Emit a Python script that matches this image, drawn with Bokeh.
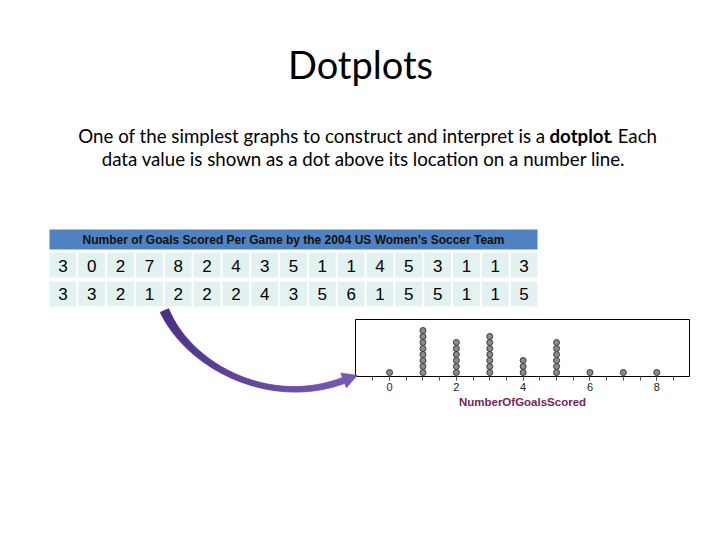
import numpy as np
from bokeh.plotting import figure
from bokeh.models import Range1d, FixedTicker, LinearAxis
from bokeh.embed import file_html
from bokeh.resources import INLINE
from bokeh.core.properties import value

# ---------------- data ----------------
TITLE = "Dotplots"
INTRO_1 = "One of the simplest graphs to construct and interpret is a"
INTRO_BOLD = "dotplot"
INTRO_2 = ". Each"
INTRO_LINE2 = "data value is shown as a dot above its location on a number line."
TABLE_TITLE = "Number of Goals Scored Per Game by the 2004 US Women\u2019s Soccer Team"
goals_row1 = [3, 0, 2, 7, 8, 2, 4, 3, 5, 1, 1, 4, 5, 3, 1, 1, 3]
goals_row2 = [3, 3, 2, 1, 2, 2, 2, 4, 3, 5, 6, 1, 5, 5, 1, 1, 5]
major_ticks = [0, 2, 4, 6, 8]
minor_ticks = [-0.5, 0, 0.5, 1, 1.5, 2, 2.5, 3, 3.5, 4, 4.5, 5, 5.5, 6, 6.5, 7, 7.5, 8, 8.5]
goal_axis_min, goal_axis_max = -1.02, 8.98
AXIS_LABEL = "NumberOfGoalsScored"

# ---------------- styles / layout (page pixels) ----------------
W, H = 720, 540
HEADER_BLUE = "#4F82C0"
CELL_FILL = "#E3F1F1"
ARROW_DARK = np.array([0x4A, 0x2E, 0x84])
ARROW_LIGHT = np.array([0x76, 0x58, 0xB4])
AXIS_LABEL_COLOR = "#7B1E62"
BOX_L, BOX_R, BOX_T, BOX_B = 355, 689, 319, 376   # dotplot panel
DOT_STEP = 6                                       # px between stacked dots
FIRST_DOT = 4                                      # px above the axis

p = figure(width=W, height=H, x_range=Range1d(0, W), y_range=Range1d(H, 0),
           output_backend="svg", toolbar_location=None,
           x_axis_location=None, y_axis_location=None,
           min_border=0, min_border_left=0, min_border_right=0,
           min_border_top=0, min_border_bottom=0)
p.grid.visible = False
p.outline_line_color = None
p.background_fill_color = "white"
p.border_fill_color = "white"

# ---------------- title and text ----------------
p.text(x=[360], y=[63.5], text=[TITLE], text_font=value("Lato"), text_font_size="38px",
       text_align="center", text_baseline="middle", text_color="black")
para = dict(text_font=value("Lato"), text_font_size="18.7px", text_baseline="middle",
            text_color="black")
p.text(x=[545], y=[135.8], text=[INTRO_1], text_align="right", **para)
p.text(x=[549], y=[135.8], text=[INTRO_BOLD], text_font_style="bold", text_align="left", **para)
p.text(x=[608], y=[135.8], text=[INTRO_2], text_align="left", **para)
p.text(x=[363], y=[158.8], text=[INTRO_LINE2], text_align="center", **para)

# ---------------- table ----------------
tbl_left, tbl_right = 49, 537
n_cols = len(goals_row1)
gap = 2
pitch = (tbl_right - tbl_left + gap) / n_cols
cell_w = pitch - gap
p.quad(left=[tbl_left], right=[tbl_right], top=[229], bottom=[249],
       fill_color=HEADER_BLUE, line_color=None)
p.text(x=[(tbl_left + tbl_right) / 2], y=[239], text=[TABLE_TITLE],
       text_font=value("Liberation Sans"), text_font_size="12px", text_font_style="bold",
       text_align="center", text_baseline="middle", text_color="#111111")
for vals, (ytop, ybot, ymid) in ((goals_row1, (252, 277, 265)), (goals_row2, (281, 306, 293))):
    lefts = [tbl_left + i * pitch for i in range(n_cols)]
    p.quad(left=lefts, right=[l + cell_w for l in lefts], top=[ytop] * n_cols,
           bottom=[ybot] * n_cols, fill_color=CELL_FILL, line_color=None)
    p.text(x=[l + cell_w / 2 for l in lefts], y=[ymid] * n_cols, text=[str(v) for v in vals],
           text_font=value("Liberation Sans"), text_font_size="17px",
           text_align="center", text_baseline="middle", text_color="black")

# ---------------- dotplot ----------------
px_per_goal = (BOX_R - BOX_L) / (goal_axis_max - goal_axis_min)
gx0 = goal_axis_min - BOX_L / px_per_goal
p.extra_x_ranges = {"goals": Range1d(gx0, gx0 + W / px_per_goal)}
k_bottom = 1 - (H - BOX_B + FIRST_DOT) / DOT_STEP
p.extra_y_ranges = {"stack": Range1d(k_bottom, k_bottom + H / DOT_STEP)}

p.quad(left=[BOX_L], right=[BOX_R], top=[BOX_T], bottom=[BOX_B],
       fill_color=None, line_color="black", line_width=1)

values = goals_row1 + goals_row2
seen = {}
xs, ys = [], []
for v in values:
    seen[v] = seen.get(v, 0) + 1
    xs.append(v)
    ys.append(seen[v])
p.scatter(x=xs, y=ys, x_range_name="goals", y_range_name="stack", size=6, marker="circle",
          fill_color="#8C8C8C", line_color="#3A3A3A", line_width=1)

ax = LinearAxis(x_range_name="goals", fixed_location=BOX_B)
ax.ticker = FixedTicker(ticks=major_ticks, minor_ticks=minor_ticks)
ax.axis_line_color = None
ax.major_tick_line_color = "#555555"
ax.minor_tick_line_color = "#555555"
ax.major_tick_in = 0
ax.major_tick_out = 4
ax.minor_tick_in = 0
ax.minor_tick_out = 4
ax.major_label_text_font = "Liberation Sans"
ax.major_label_text_font_size = "11px"
ax.major_label_text_color = "#222222"
ax.major_label_standoff = 2
p.add_layout(ax, "below")

p.text(x=[(BOX_L + BOX_R) / 2], y=[401], text=[AXIS_LABEL],
       text_font=value("Liberation Sans"), text_font_size="11.5px", text_font_style="bold",
       text_align="center", text_baseline="middle", text_color=AXIS_LABEL_COLOR)

# ---------------- curved arrow (decoration, dark -> light purple) ----------------
P = np.array([[164.0, 310.0], [188.0, 365.0], [268.0, 408.0], [343.0, 380.0]])
N = 60
t = np.linspace(0, 1, N)[:, None]
B = (1 - t) ** 3 * P[0] + 3 * (1 - t) ** 2 * t * P[1] + 3 * (1 - t) * t ** 2 * P[2] + t ** 3 * P[3]
dB = 3 * (1 - t) ** 2 * (P[1] - P[0]) + 6 * (1 - t) * t * (P[2] - P[1]) + 3 * t ** 2 * (P[3] - P[2])
tang = dB / np.linalg.norm(dB, axis=1, keepdims=True)
nrm = np.column_stack([-tang[:, 1], tang[:, 0]])
tt = t[:, 0]
half_w = (4.6 * (1 - tt) ** 2 + 1.7 * 2 * tt * (1 - tt) + 3.2 * tt ** 2)[:, None]
side_a = B + nrm * half_w
side_b = B - nrm * half_w


def mix(f):
    c = (ARROW_DARK + (ARROW_LIGHT - ARROW_DARK) * f).astype(int)
    return "#%02x%02x%02x" % tuple(c)


seg_x, seg_y, seg_c = [], [], []
for i in range(N - 1):
    quad_pts = np.array([side_a[i], side_a[i + 1], side_b[i + 1], side_b[i]])
    seg_x.append(list(quad_pts[:, 0]))
    seg_y.append(list(quad_pts[:, 1]))
    seg_c.append(mix(i / (N - 1)))
p.patches(xs=seg_x, ys=seg_y, fill_color=seg_c, line_color=seg_c, line_width=0.8)
d, n, base = tang[-1], nrm[-1], P[3]
head = np.array([base + n * 8, base + d * 15, base - n * 8])
p.patch(x=head[:, 0], y=head[:, 1], fill_color=mix(1.0), line_color=mix(1.0), line_width=0.5)

open("out.html", "w").write(file_html(p, INLINE))
